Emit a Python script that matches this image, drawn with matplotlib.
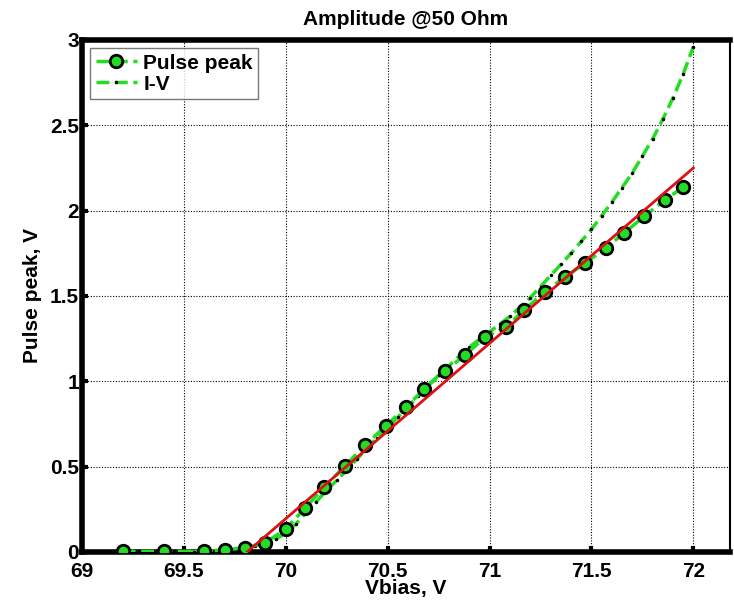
import numpy as np
import matplotlib
matplotlib.use('Agg')
import matplotlib.pyplot as plt

plt.rcParams['font.family'] = ['Liberation Sans', 'DejaVu Sans']
plt.rcParams['font.weight'] = 'bold'

# measured pulse peak amplitude
vbias = [69.20, 69.40, 69.60, 69.70, 69.80, 69.90, 70.00, 70.095, 70.19, 70.29,
         70.39, 70.49, 70.59, 70.68, 70.78, 70.88, 70.98, 71.08, 71.17, 71.27,
         71.37, 71.47, 71.57, 71.66, 71.76, 71.86, 71.95]
peak = [0.003, 0.003, 0.005, 0.012, 0.025, 0.055, 0.135, 0.258, 0.381, 0.504,
        0.627, 0.738, 0.849, 0.955, 1.060, 1.154, 1.260, 1.318, 1.418, 1.523,
        1.611, 1.693, 1.781, 1.869, 1.968, 2.062, 2.138]

# I-V curve
iv_x = [69.50, 69.55, 69.60, 69.65, 69.70, 69.75, 69.80, 69.85, 69.90, 69.95,
        70.00, 70.05, 70.10, 70.15, 70.20, 70.25, 70.30, 70.35, 70.40, 70.45,
        70.50, 70.55, 70.60, 70.65, 70.70, 70.75, 70.80, 70.85, 70.90, 70.95,
        71.00, 71.05, 71.10, 71.15, 71.20, 71.25, 71.30, 71.35, 71.40, 71.45,
        71.50, 71.55, 71.60, 71.65, 71.70, 71.75, 71.80, 71.85, 71.90, 71.95, 72.00]
iv_y = [0.000, 0.002, 0.003, 0.006, 0.010, 0.016, 0.025, 0.035, 0.050, 0.075,
        0.110, 0.165, 0.230, 0.295, 0.360, 0.420, 0.480, 0.545, 0.610, 0.670,
        0.730, 0.790, 0.850, 0.915, 0.980, 1.035, 1.090, 1.145, 1.200, 1.245,
        1.290, 1.335, 1.380, 1.435, 1.490, 1.555, 1.620, 1.685, 1.750, 1.820,
        1.890, 1.970, 2.050, 2.135, 2.220, 2.320, 2.420, 2.535, 2.660, 2.800, 2.960]

# linear fit
fit_x = [69.81, 72.0]
fit_y = [0.0, 2.25]

green = '#22dd22'

fig = plt.figure(figsize=(7.34, 6.02), dpi=100)
ax = fig.add_axes([0.1117, 0.0831, 0.8829, 0.8505])

ax.plot(vbias, peak, '--o', color=green, lw=2.5, ms=9, mfc=green, mec='black',
        mew=2, label='Pulse peak', zorder=4)
ax.plot(iv_x, iv_y, '--', color=green, lw=2.5, marker='.', ms=3, mfc='black',
        mec='black', label='I-V', zorder=3)
ax.plot(fit_x, fit_y, '-', color='#dd1111', lw=2, zorder=5)

ax.set_xlim(69, 72.18)
ax.set_ylim(0, 3)
ax.set_xticks([69, 69.5, 70, 70.5, 71, 71.5, 72])
ax.set_xticklabels(['69', '69.5', '70', '70.5', '71', '71.5', '72'])
ax.set_yticks([0, 0.5, 1, 1.5, 2, 2.5, 3])
ax.set_yticklabels(['0', '0.5', '1', '1.5', '2', '2.5', '3'])

ax.grid(True, color='black', linestyle=(0, (1, 1.5)), lw=0.8)
ax.tick_params(direction='in', length=4, width=3, labelsize=15)
ax.tick_params(axis='x', pad=7)
ax.tick_params(axis='y', pad=2)
for s in ['left', 'bottom', 'top']:
    ax.spines[s].set_linewidth(4)
ax.spines['right'].set_linewidth(1.5)

ax.set_xlabel('Vbias, V', fontsize=15, fontweight='bold', labelpad=-1)
ax.set_ylabel('Pulse peak, V', fontsize=15, fontweight='bold', labelpad=6)
ax.set_title('Amplitude @50 Ohm', fontsize=15, fontweight='bold', pad=11)

leg = ax.legend(loc='upper left', fontsize=15, frameon=True, fancybox=False,
                handlelength=2.0, borderaxespad=0.4, labelspacing=0.1,
                handletextpad=0.3, borderpad=0.25)
leg.get_frame().set_edgecolor('#555555')
leg.get_frame().set_linewidth(1)
for t in leg.get_texts():
    t.set_fontweight('bold')

fig.savefig('out.png', dpi=100)
